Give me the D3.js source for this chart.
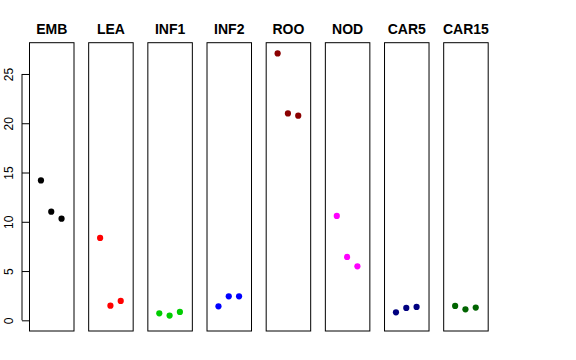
<!DOCTYPE html>
<html><head><meta charset="utf-8">
<script src="https://cdn.jsdelivr.net/npm/d3@7"></script>
<style>body{margin:0;background:#fff}svg{display:block}</style>
</head><body><svg id="c" width="576" height="360"></svg>
<script>
const categories = ["EMB","LEA","INF1","INF2","ROO","NOD","CAR5","CAR15"];
const colors = ["#000000","#FF0000","#00CD00","#0000FF","#8B0000","#FF00FF","#000080","#006400"];
const values = [
  [14.2, 11.03, 10.32],
  [8.36, 1.49, 1.97],
  [0.71, 0.48, 0.85],
  [1.42, 2.44, 2.44],
  [27.09, 21.0, 20.77],
  [10.59, 6.43, 5.48],
  [0.81, 1.26, 1.36],
  [1.46, 1.12, 1.29]
];
const yTicks = [0,5,10,15,20,25];

const svg = d3.select("#c");
const plotTop = 42.7, plotBottom = 331;
const lo = 0, hi = d3.max(values.flat());
const pad = 0.04*(hi-lo);
const y = d3.scaleLinear().domain([lo-pad, hi+pad]).range([plotBottom, plotTop]);
const step = 59.17, pw = 44.5, x0 = 29;
const px = i => x0 + i*step;
const font = "Liberation Sans, Arial, sans-serif";

categories.forEach((cat,i)=>{
  const g = svg.append("g").attr("transform",`translate(${px(i)},0)`);
  const x = d3.scaleLinear().domain([-0.16,4.16]).range([0,pw]);
  g.append("rect").attr("x",0.5).attr("y",plotTop).attr("width",pw).attr("height",plotBottom-plotTop)
    .attr("fill","none").attr("stroke","#000").attr("stroke-width",1);
  g.selectAll("circle").data(values[i]).join("circle")
    .attr("cx",(d,j)=>x(j+1)).attr("cy",d=>y(d)).attr("r",3.1).attr("fill",colors[i]);
  g.append("text").attr("x",pw/2+0.5).attr("y",34).attr("text-anchor","middle")
    .attr("font-family",font).attr("font-weight","bold")
    .attr("font-size",14).text(cat);
});

const axis = d3.axisLeft(y).tickValues(yTicks).tickSize(7).tickPadding(3).tickFormat(d3.format("d"));
const ag = svg.append("g").attr("transform","translate(22,0)").call(axis);
ag.select(".domain").attr("d",`M0,${y(0)}V${y(25)}`).attr("stroke","#000");
ag.selectAll(".tick line").attr("x1",0).attr("x2",7).attr("stroke","#000");
ag.selectAll(".tick text").attr("font-family",font).attr("font-size",12)
  .attr("fill","#000").attr("text-anchor","middle").attr("dy",null)
  .attr("x",null).attr("transform","translate(-9,0) rotate(-90)");
</script></body></html>
